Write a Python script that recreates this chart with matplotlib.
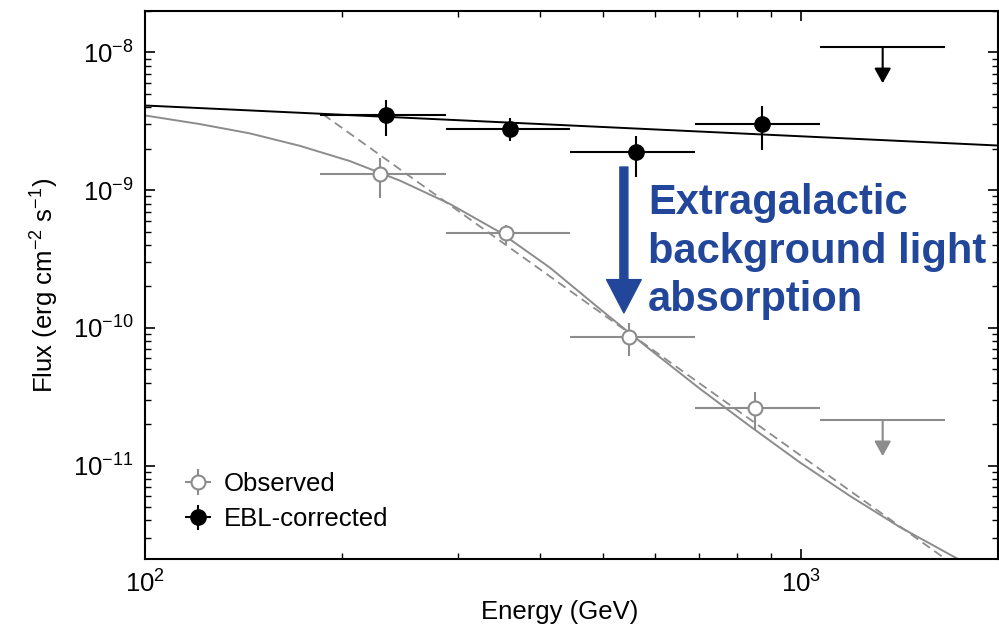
import numpy as np
import matplotlib.pyplot as plt

plt.rcParams['font.family'] = 'Liberation Sans'
plt.rcParams['mathtext.fontset'] = 'custom'
plt.rcParams['mathtext.rm'] = 'Liberation Sans'
plt.rcParams['mathtext.it'] = 'Liberation Sans:italic'
plt.rcParams['mathtext.bf'] = 'Liberation Sans:bold'

# energy bins (GeV)
bin_lo = [185, 288, 445, 689]
bin_hi = [288, 445, 689, 1069]

# observed spectrum
obs_e = [228, 355, 548, 853]
obs_f = [1.30e-9, 4.85e-10, 8.57e-11, 2.61e-11]
obs_hi = [1.71e-9, 5.63e-10, 1.08e-10, 3.41e-11]
obs_lo = [8.8e-10, 4.10e-10, 6.3e-11, 1.80e-11]

# EBL-corrected spectrum
cor_e = [233, 361, 562, 873]
cor_f = [3.49e-9, 2.80e-9, 1.88e-9, 3.00e-9]
cor_hi = [4.48e-9, 3.33e-9, 2.49e-9, 4.06e-9]
cor_lo = [2.49e-9, 2.26e-9, 1.24e-9, 1.96e-9]

# upper limits in the last bin
ul_e = 1334
ul_bin = [1069, 1660]
ul_obs = 2.13e-11
ul_cor = 1.087e-8

# model curves
pl_e = [100, 2000]
pl_f = [4.12e-9, 2.11e-9]

abs_e = [100, 121.3, 144.6, 172.3, 205.4, 244.7, 291.7, 347.7, 414.4, 493.9,
         588.7, 701.5, 836.1, 996.5, 1187.6, 1415.5, 1747.5]
abs_f = [3.49e-9, 3.02e-9, 2.585e-9, 2.10e-9, 1.627e-9, 1.176e-9, 7.96e-10, 4.96e-10,
         2.746e-10, 1.376e-10, 7.00e-11, 3.63e-11, 1.942e-11, 1.059e-11, 6.05e-12,
         3.59e-12, 2.07e-12]

dash_e = [187, 1700]
dash_f = [3.55e-9, 1.95e-12]

grey = '#8c8c8c'
blue = '#22479a'

fig = plt.figure(figsize=(9.99, 6.29), dpi=100)
ax = fig.add_axes([0.145, 0.1113, 0.854, 0.8712])

ax.plot(pl_e, pl_f, color='black', lw=1.4, zorder=2)
ax.plot(abs_e, abs_f, color=grey, lw=1.4, zorder=2)
ax.plot(dash_e, dash_f, color=grey, lw=1.3, ls=(0, (5, 3)), zorder=2)

obs_xerr = [np.array(obs_e) - np.array(bin_lo), np.array(bin_hi) - np.array(obs_e)]
obs_yerr = [np.array(obs_f) - np.array(obs_lo), np.array(obs_hi) - np.array(obs_f)]
ax.errorbar(obs_e, obs_f, xerr=obs_xerr, yerr=obs_yerr, fmt='o', color=grey,
            mfc='white', mec=grey, mew=1.5, ms=10, elinewidth=1.5, capsize=0,
            zorder=3, label='Observed')

cor_xerr = [np.array(cor_e) - np.array(bin_lo), np.array(bin_hi) - np.array(cor_e)]
cor_yerr = [np.array(cor_f) - np.array(cor_lo), np.array(cor_hi) - np.array(cor_f)]
ax.errorbar(cor_e, cor_f, xerr=cor_xerr, yerr=cor_yerr, fmt='o', color='black',
            ms=11, elinewidth=1.5, capsize=0, zorder=3, label='EBL-corrected')

# upper limits
for f, c in [(ul_obs, grey), (ul_cor, 'black')]:
    ax.hlines(f, ul_bin[0], ul_bin[1], color=c, lw=1.5)
    ax.annotate('', xy=(ul_e, f * 0.55), xytext=(ul_e, f),
                arrowprops=dict(arrowstyle='-|>,head_length=0.45,head_width=0.25',
                                color=c, lw=1.5, shrinkA=0, shrinkB=0,
                                mutation_scale=20))

ax.set_xscale('log')
ax.set_yscale('log')
ax.set_xlim(100, 2000)
ax.set_ylim(2.1e-12, 2e-8)

ax.tick_params(which='both', direction='in', top=True, right=True, labelsize=18.5)
ax.tick_params(which='major', length=7.5, width=1.2, pad=8)
ax.tick_params(which='minor', length=4.5, width=1.0)
for s in ax.spines.values():
    s.set_linewidth(1.5)

ax.set_xlabel('Energy (GeV)', fontsize=18.5)
ax.set_ylabel('Flux (erg cm$^{-2}$ s$^{-1}$)', fontsize=18.5)
ax.yaxis.set_label_coords(-0.098, 0.5)
ax.xaxis.set_label_coords(0.4865, -0.075)

ax.legend(loc='lower left', bbox_to_anchor=(0.031, 0.027), frameon=False,
          fontsize=18.5, handlelength=1.1, handletextpad=0.45, labelspacing=0.45,
          borderpad=0)

# EBL absorption annotation
ax.annotate('', xy=(0.5615, 0.449), xytext=(0.5615, 0.7153), xycoords='axes fraction',
            arrowprops=dict(arrowstyle='simple,head_length=0.5,head_width=0.52,tail_width=0.12',
                            color=blue, shrinkA=0, shrinkB=0, mutation_scale=48))
ax.text(0.5897, 0.686, 'Extragalactic\nbackground light\nabsorption', transform=ax.transAxes,
        color=blue, fontsize=30, fontweight='bold', va='top', ha='left', linespacing=1.28)

fig.savefig('out.png', dpi=100)
